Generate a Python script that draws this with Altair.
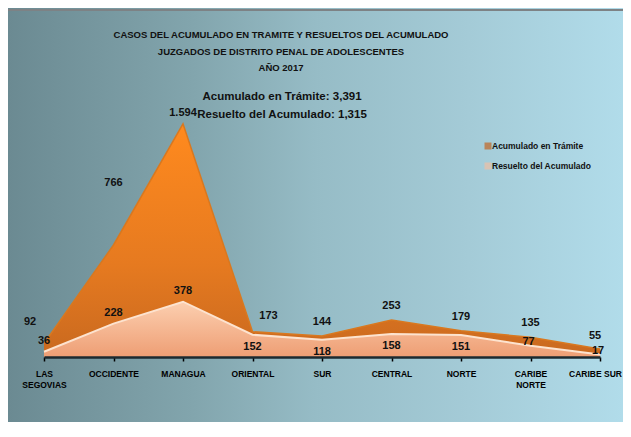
import altair as alt
import pandas as pd

categories = ["LAS SEGOVIAS", "OCCIDENTE", "MANAGUA", "ORIENTAL", "SUR",
              "CENTRAL", "NORTE", "CARIBE NORTE", "CARIBE SUR"]
tramite = [92, 766, 1594, 173, 144, 253, 179, 135, 55]
resuelto = [36, 228, 378, 152, 118, 158, 151, 77, 17]
series_names = ["Acumulado en Trámite", "Resuelto del Acumulado"]
title_lines = ["CASOS DEL ACUMULADO EN TRAMITE Y RESUELTOS DEL ACUMULADO",
               "JUZGADOS DE DISTRITO  PENAL DE ADOLESCENTES",
               "AÑO 2017"]
summary_lines = ["Acumulado en Trámite:  3,391", "Resuelto del Acumulado:  1,315"]

W, H = 556, 234
PL, PT = 36, 115
TOTAL_W, TOTAL_H = 615, 414
PR, PB = TOTAL_W - PL - W, TOTAL_H - PT - H
FONT = "Liberation Sans"

df = pd.DataFrame({"cat": categories, "tramite": tramite, "resuelto": resuelto})
order = categories
x_scale = alt.Scale(type="point", padding=0)

x_enc = alt.X("cat:N", sort=order, scale=x_scale,
              axis=alt.Axis(title=None, labelAngle=0, labelFont=FONT, labelFontSize=8.5,
                            labelFontWeight="bold", labelColor="#000000",
                            labelExpr="datum.label == 'LAS SEGOVIAS' ? ['LAS','SEGOVIAS'] : datum.label == 'CARIBE NORTE' ? ['CARIBE','NORTE'] : datum.label",
                            labelOffset={"condition": {"test": "datum.label == 'CARIBE SUR'", "value": -5}, "value": 0},
                            domainColor="#1c2a30", domainWidth=2.5, tickColor="#000000",
                            tickSize=4, tickWidth=1.5, labelPadding=8, labelLineHeight=11,
                            zindex=1))
y_scale = alt.Scale(domain=[0, 1600], nice=False, zero=True)

bg = alt.Chart(alt.Data(values=[{}])).mark_rect(
    fill=alt.Gradient(gradient="linear", x1=0, x2=1, y1=0, y2=0,
                      stops=[alt.GradientStop(offset=0, color="#6b8a92"),
                             alt.GradientStop(offset=0.3, color="#82a5ad"),
                             alt.GradientStop(offset=0.5, color="#96bcc6"),
                             alt.GradientStop(offset=0.75, color="#a4cbd7"),
                             alt.GradientStop(offset=1, color="#b1dcea")])
).encode(x=alt.value(-PL), x2=alt.value(W + PR), y=alt.value(-PT), y2=alt.value(H + PB))

topline = alt.Chart(alt.Data(values=[{}])).mark_rule(color="#7d8285", strokeWidth=2).encode(
    x=alt.value(-PL), x2=alt.value(W + PR), y=alt.value(-PT + 2))

area_t = alt.Chart(df).mark_area(
    fill=alt.Gradient(gradient="linear", x1=0, x2=0, y1=0, y2=1,
                      stops=[alt.GradientStop(offset=0, color="#ff8a1e"),
                             alt.GradientStop(offset=0.6, color="#e67a20"),
                             alt.GradientStop(offset=1, color="#c9691f")]),
    line=alt.MarkConfig(color="#d9781f", strokeWidth=1.5), opacity=1
).encode(x=x_enc, y=alt.Y("tramite:Q", scale=y_scale, axis=None))

area_r = alt.Chart(df).mark_area(
    fill=alt.Gradient(gradient="linear", x1=0, x2=0, y1=0, y2=1,
                      stops=[alt.GradientStop(offset=0, color="#fccfb0"),
                             alt.GradientStop(offset=1, color="#ee9e74")]),
    line=alt.MarkConfig(color="#fde3cf", strokeWidth=2), opacity=1
).encode(x=x_enc, y=alt.Y("resuelto:Q", scale=y_scale, axis=None))


def labels(field, cats, dx, dy):
    return alt.Chart(df).transform_filter(
        alt.FieldOneOfPredicate(field="cat", oneOf=cats)
    ).mark_text(font=FONT, fontSize=11, fontWeight="bold", color="#111111",
                dx=dx, dy=dy).encode(
        x=alt.X("cat:N", sort=order, scale=x_scale),
        y=alt.Y(f"{field}:Q", scale=y_scale),
        text=alt.Text(f"{field}:Q", format=",.0f"))


lt_default = labels("tramite", ["SUR", "CENTRAL", "NORTE", "CARIBE NORTE"], 0, -14)
lt_seg = labels("tramite", ["LAS SEGOVIAS"], -14, -22)
lt_occ = labels("tramite", ["OCCIDENTE"], 0, -62)
lt_ori = labels("tramite", ["ORIENTAL"], 16, -16)
lt_csur = labels("tramite", ["CARIBE SUR"], -5, -13)
lt_man = alt.Chart(df).transform_filter(
    alt.FieldEqualPredicate(field="cat", equal="MANAGUA")
).transform_calculate(
    label="replace(format(datum.tramite, ',.0f'), ',', '.')"
).mark_text(font=FONT, fontSize=11, fontWeight="bold", color="#111111", dy=-11).encode(
    x=alt.X("cat:N", sort=order, scale=x_scale),
    y=alt.Y("tramite:Q", scale=y_scale),
    text=alt.Text("label:N"))

lr_a = labels("resuelto", ["LAS SEGOVIAS", "OCCIDENTE", "MANAGUA"], 0, -11)
lr_b = labels("resuelto", ["ORIENTAL", "SUR", "CENTRAL", "NORTE"], 0, 12)
lr_c = labels("resuelto", ["CARIBE NORTE", "CARIBE SUR"], -2, -4)

title_df = pd.DataFrame({"t": title_lines, "i": list(range(len(title_lines)))})
title = alt.Chart(title_df).mark_text(font=FONT, fontSize=9.5, fontWeight="bold",
                                      color="#111111").encode(
    x=alt.value(237),
    y=alt.Y("i:O", scale=alt.Scale(type="point", domain=[0, 1, 2], range=[-88, -55], padding=0), axis=None),
    text="t:N")

sum_df = pd.DataFrame({"t": summary_lines, "i": [0, 1]})
summary = alt.Chart(sum_df).mark_text(font=FONT, fontSize=11.5, fontWeight="bold",
                                      color="#111111").encode(
    x=alt.value(238),
    y=alt.Y("i:O", scale=alt.Scale(type="point", domain=[0, 1], range=[-26, -8], padding=0), axis=None),
    text="t:N")

leg_df = pd.DataFrame({"name": series_names, "i": [0, 1]})
leg_y = alt.Y("i:O", scale=alt.Scale(type="point", domain=[0, 1], range=[23, 43], padding=0), axis=None)
leg_sq = alt.Chart(leg_df).mark_square(size=49, opacity=1).encode(
    x=alt.value(444), y=leg_y,
    color=alt.Color("name:N", scale=alt.Scale(domain=series_names, range=["#b9845a", "#d9c3b4"]), legend=None))
leg_tx = alt.Chart(leg_df).mark_text(font=FONT, fontSize=8.5, fontWeight="bold",
                                     color="#111111", align="left").encode(
    x=alt.value(448), y=leg_y, text="name:N")

chart = alt.layer(
    bg, topline, area_t, area_r,
    lt_default, lt_seg, lt_occ, lt_ori, lt_csur, lt_man, lr_a, lr_b, lr_c,
    title, summary, leg_sq, leg_tx
).resolve_scale(y="independent").properties(
    width=W, height=H,
    padding={"left": PL, "top": PT, "right": PR, "bottom": PB},
    autosize=alt.AutoSizeParams(type="none"),
    background="#ffffff"
).configure_view(stroke=None)

chart.save("out.html", embed_options={"renderer": "svg", "actions": False})
